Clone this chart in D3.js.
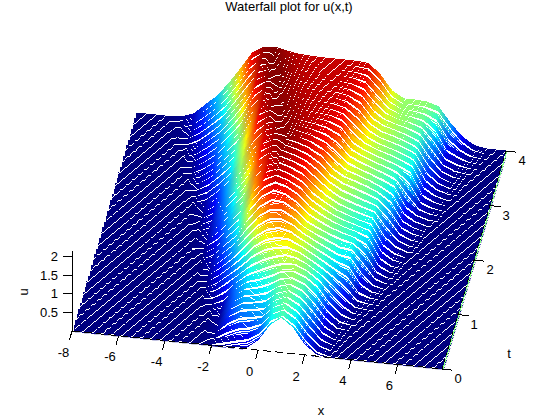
<!DOCTYPE html>
<html><head><meta charset="utf-8">
<script src="https://cdn.jsdelivr.net/npm/d3@7"></script>
<style>html,body{margin:0;padding:0;background:#fff}svg{display:block}text{font-family:"Liberation Sans",Arial,sans-serif;fill:#000}</style>
</head><body><svg id="c" width="560" height="420"></svg>
<script>
// Values. One trace per t row; x columns below. Missing trailing values are u = 0.
// The reference has about 201 thin traces; only these 41 estimated rows are typed.
// Each is drawn with a hatched stroke (several 1px lines, a rendering style, not extra data).
const xDomain=[-8,7.9], tDomain=[0,4], uDomain=[0,2.15];
const xColumns=[-6.5,-6,-5.5,-5,-4.5,-4,-3.5,-3,-2.5,-2,-1.5,-1,-.5,0,.5,1,1.5,2,2.5,3,3.5,4,4.5,5,5.5,6,6.5,7];
const tRows=[0,.1,.2,.3,.4,.5,.6,.7,.8,.9,1,1.1,1.2,1.3,1.4,1.5,1.6,1.7,1.8,1.9,2,2.1,2.2,2.3,2.4,2.5,2.6,2.7,2.8,2.9,3,3.1,3.2,3.3,3.4,3.5,3.6,3.7,3.8,3.9,4];
const xTicks=[-8,-6,-4,-2,0,2,4,6], tTicks=[0,1,2,3,4], uTicks=[.5,1,1.5,2];
const uRows=[
[0,0,0,0,0,0,0,0,0,.01,.02,.03,.04,.28,.72,.95,.72,.3,.06],
[0,0,0,0,0,0,0,0,0,.02,.1,.18,.25,.45,.82,.97,.76,.36,.1,.01],
[0,0,0,0,0,0,0,0,0,.04,.22,.36,.42,.55,.86,1,.8,.42,.13,.02],
[0,0,0,0,0,0,0,0,0,.05,.33,.5,.55,.62,.9,1.03,.84,.48,.16,.02],
[0,0,0,0,0,0,0,0,0,.05,.38,.57,.62,.68,.94,1.05,.88,.54,.19,.03],
[0,0,0,0,0,0,0,0,0,.06,.42,.62,.67,.75,.98,1.07,.92,.6,.22,.03],
[0,0,0,0,0,0,0,0,.01,.09,.45,.66,.72,.82,1.02,1.1,.97,.66,.28,.05],
[0,0,0,0,0,0,0,0,.02,.13,.48,.7,.78,.9,1.07,1.13,1.01,.74,.34,.09,.01],
[0,0,0,0,0,0,0,0,.04,.2,.52,.75,.85,.98,1.13,1.16,1.04,.81,.42,.14,.02],
[0,0,0,0,0,0,0,0,.08,.29,.57,.82,.96,1.1,1.2,1.19,1.05,.84,.52,.22,.03],
[0,0,0,0,0,0,0,0,.13,.38,.62,.9,1.08,1.2,1.28,1.22,1.05,.85,.6,.3,.05,.01],
[0,0,0,0,0,0,0,.01,.18,.44,.7,1,1.2,1.3,1.34,1.24,1.07,.88,.66,.42,.1,.02],
[0,0,0,0,0,0,0,.03,.24,.5,.8,1.12,1.33,1.42,1.41,1.26,1.09,.91,.72,.55,.16,.04],
[0,0,0,0,0,0,0,.06,.3,.57,.92,1.25,1.46,1.54,1.47,1.28,1.11,.95,.78,.68,.25,.06],
[0,0,0,0,0,0,0,.09,.36,.63,1.03,1.38,1.59,1.64,1.52,1.3,1.13,.98,.83,.78,.38,.09],
[0,0,0,0,0,0,0,.12,.42,.7,1.15,1.5,1.7,1.72,1.55,1.3,1.15,1.02,.88,.84,.5,.12,.01],
[0,0,0,0,0,0,.01,.17,.48,.77,1.26,1.62,1.82,1.79,1.61,1.34,1.18,1.05,.94,.86,.62,.16,.02],
[0,0,0,0,0,0,.03,.22,.54,.85,1.36,1.74,1.93,1.86,1.67,1.39,1.22,1.07,.96,.87,.72,.2,.03],
[0,0,0,0,0,0,.05,.29,.6,.93,1.45,1.83,2,1.91,1.73,1.43,1.25,1.09,.97,.88,.78,.24,.05],
[0,0,0,0,0,0,.07,.35,.66,1,1.53,1.9,2.03,1.93,1.77,1.47,1.28,1.1,.99,.89,.8,.27,.07],
[0,0,0,0,0,0,.09,.4,.72,1.08,1.6,1.95,2.05,1.95,1.8,1.5,1.3,1.12,1,.9,.82,.3,.1],
[0,0,0,0,0,.01,.13,.45,.78,1.17,1.68,1.98,2.07,1.98,1.84,1.56,1.33,1.15,1.03,.93,.84,.38,.13,.02],
[0,0,0,0,0,.02,.18,.5,.85,1.26,1.75,2.01,2.09,2,1.87,1.62,1.37,1.18,1.07,.96,.87,.48,.16,.03],
[0,0,0,0,0,.04,.23,.55,.93,1.35,1.83,2.04,2.1,2.02,1.9,1.68,1.4,1.22,1.11,1,.89,.58,.19,.05],
[0,0,0,0,0,.06,.28,.6,1,1.44,1.9,2.06,2.11,2.04,1.93,1.73,1.43,1.25,1.15,1.04,.91,.65,.22,.07],
[0,0,0,0,0,.08,.33,.64,1.08,1.53,1.95,2.08,2.12,2.06,1.95,1.78,1.46,1.28,1.18,1.07,.93,.72,.24,.08],
[0,0,0,0,.01,.13,.39,.7,1.15,1.62,1.98,2.1,2.12,2.05,1.97,1.82,1.55,1.32,1.2,1.09,.96,.78,.28,.1,.01],
[0,0,0,0,.03,.19,.46,.77,1.22,1.72,2.02,2.11,2.11,2.05,1.98,1.87,1.64,1.36,1.23,1.11,1,.85,.33,.12,.03],
[0,0,0,0,.06,.25,.54,.84,1.29,1.82,2.06,2.12,2.1,2.04,1.99,1.91,1.72,1.4,1.26,1.13,1.03,.89,.5,.15,.04],
[0,0,0,0,.09,.3,.6,.9,1.37,1.9,2.08,2.13,2.09,2.04,2,1.94,1.79,1.44,1.28,1.15,1.05,.93,.68,.19,.06],
[0,0,0,0,.13,.35,.66,.96,1.45,1.97,2.1,2.13,2.08,2.03,2,1.96,1.85,1.48,1.3,1.17,1.07,.96,.81,.24,.08],
[0,0,0,.02,.18,.4,.72,1.05,1.55,2,2.11,2.12,2.07,2.03,2,1.97,1.88,1.55,1.32,1.18,1.09,.98,.84,.29,.1,.01],
[0,0,0,.04,.22,.46,.78,1.13,1.65,2.03,2.12,2.11,2.06,2.02,2,1.98,1.9,1.62,1.35,1.2,1.1,1,.86,.34,.12,.02],
[0,0,0,.07,.27,.52,.86,1.23,1.75,2.06,2.13,2.1,2.05,2.02,2,1.99,1.92,1.69,1.38,1.21,1.12,1.02,.88,.39,.14,.03],
[0,0,0,.1,.33,.58,.94,1.34,1.85,2.09,2.14,2.09,2.04,2.01,2,1.99,1.94,1.75,1.4,1.23,1.14,1.04,.9,.44,.15,.03],
[0,0,.01,.13,.38,.65,1.03,1.45,1.95,2.12,2.14,2.08,2.03,2.01,2,2,1.95,1.8,1.43,1.24,1.15,1.06,.93,.5,.17,.04],
[0,0,.04,.2,.45,.71,1.12,1.54,1.99,2.13,2.14,2.07,2.03,2.01,2,2,1.96,1.84,1.47,1.26,1.15,1.08,.96,.57,.19,.06,.01],
[0,.01,.07,.26,.52,.8,1.22,1.65,2.04,2.14,2.13,2.06,2.02,2.01,2,2,1.97,1.88,1.53,1.27,1.14,1.09,1,.66,.22,.1,.02],
[0,.01,.09,.31,.58,.89,1.31,1.76,2.08,2.15,2.12,2.05,2.02,2,2,2,1.98,1.92,1.6,1.28,1.13,1.1,1.04,.8,.3,.15,.03],
[0,.02,.12,.37,.63,.98,1.4,1.85,2.1,2.15,2.1,2.04,2.01,2,2,2,1.99,1.95,1.65,1.29,1.12,1.11,1.07,.92,.45,.2,.05],
[0,.03,.14,.42,.68,1.06,1.48,1.93,2.12,2.15,2.08,2.03,2.01,2,2,2,2,1.97,1.7,1.3,1.12,1.12,1.1,1,.6,.27,.07]
];

const svg=d3.select("#c");
const xSx=d3.scaleLinear().domain(xDomain).range([72,442]);
const xSy=d3.scaleLinear().domain(xDomain).range([331,369]);
const tSx=d3.scaleLinear().domain(tDomain).range([0,64]);
const tSy=d3.scaleLinear().domain(tDomain).range([0,-218]);
const uSy=d3.scaleLinear().domain(uDomain).range([0,-80]);
const px=(x,t)=>xSx(x)+tSx(t);
const py=(x,t,u)=>xSy(x)+tSy(t)+uSy(u);
const jet=d3.scaleLinear().domain([0,.125,.375,.625,.875,1].map(f=>f*uDomain[1]))
  .range(["#00007f","#0000ff","#00ffff","#ffff00","#ff0000","#7f0000"]).clamp(true);

const xAll=[xDomain[0],...xColumns,xDomain[1]];
const rows=tRows.map((t,i)=>({t,i,pts:xAll.map((x,j)=>({x,u:(j==0||j==xAll.length-1)?0:(uRows[i][j-1]||0)}))}));
const defs=svg.append("defs");
defs.selectAll("linearGradient").data(rows).join("linearGradient")
  .attr("id",d=>"g"+d.i).attr("gradientUnits","userSpaceOnUse")
  .attr("x1",d=>px(xDomain[0],d.t)).attr("x2",d=>px(xDomain[1],d.t)).attr("y1",0).attr("y2",0)
  .selectAll("stop").data(d=>d.pts).join("stop")
  .attr("offset",p=>(xSx(p.x)-xSx(xDomain[0]))/(xSx(xDomain[1])-xSx(xDomain[0])))
  .attr("stop-color",p=>jet(p.u));
defs.append("clipPath").attr("id","surf").append("polygon").attr("points",[
  [px(xDomain[0],0),0],[px(xDomain[1],4)+2,0],[px(xDomain[1],4)+2,py(xDomain[1],4,0)],
  [px(xDomain[1],0)+2,py(xDomain[1],0,0)+1],[px(xDomain[0],0),py(xDomain[0],0,0)+1]
].map(p=>p.join(",")).join(" "));

// back to front, like a waterfall: each trace hides what is behind it with a white skirt.
// Lines past the first five only show where the next trace is further than one bundle away.
const hatch=[0,1.09,2.18,3.27,4.36,7.63,9.81,11.99,14.17];
const skirtDrop=16;
const order=rows.slice().reverse();
const gS=svg.append("g").attr("clip-path","url(#surf)");
const row=gS.selectAll("g").data(order).join("g");
row.append("path")
  .attr("fill","#fff").attr("stroke","none").attr("shape-rendering","crispEdges")
  .attr("d",d=>d3.area().x(p=>px(p.x,d.t)).y0(p=>py(p.x,d.t,0)+(d.t==0?0:skirtDrop)).y1(p=>py(p.x,d.t,p.u))(d.pts));
row.selectAll("path.l").data(d=>(d.t==0?[0]:hatch).map(o=>({o,d}))).join("path").attr("class","l")
  .attr("fill","none").attr("stroke",e=>`url(#g${e.d.i})`).attr("shape-rendering","crispEdges")
  .attr("stroke-width",1).attr("stroke-linejoin","bevel")
  .attr("transform",e=>`translate(0,${e.o})`)
  .attr("d",e=>d3.line().x(p=>px(p.x,e.d.t)).y(p=>py(p.x,e.d.t,p.u))(e.d.pts));

const fs=13;
function place(g,pos,tick,off,anchor){
  g.attr("font-size",fs).attr("font-family",null);
  g.selectAll(".tick").attr("transform",d=>`translate(${pos(d)})`);
  g.selectAll(".tick line").attr("x2",tick[0]).attr("y2",tick[1]).attr("shape-rendering","crispEdges");
  g.selectAll(".tick text").attr("x",off[0]).attr("y",off[1]).attr("dy","0.36em").attr("text-anchor",anchor);
}
const gx=svg.append("g").call(d3.axisBottom(xSx).tickValues(xTicks).tickFormat(d=>String(d)));
place(gx,d=>[px(d,0),py(d,0,0)],[-2.5,9],[-8.5,21],"middle");
gx.select(".domain").attr("d",`M${px(xDomain[0],0)},${py(xDomain[0],0,0)}L${px(xDomain[1],0)},${py(xDomain[1],0,0)}`)
  .attr("stroke-dasharray","8 4").attr("shape-rendering","crispEdges");
svg.append("line").attr("x1",px(xDomain[1],0)+1).attr("y1",py(xDomain[1],0,0)).attr("x2",px(xDomain[1],4)+1).attr("y2",py(xDomain[1],4,0))
  .attr("stroke","#7fff7f").attr("shape-rendering","crispEdges");
const tS=d3.scaleLinear().domain(tDomain).range([369,151]);
const gt=svg.append("g").call(d3.axisRight(tS).tickValues(tTicks).tickFormat(d=>String(d)));
place(gt,d=>[px(xDomain[1],d),py(xDomain[1],d,0)],[10.5,1.2],[16,9.5],"middle");
gt.select(".domain").attr("d",`M${px(xDomain[1],0)},${py(xDomain[1],0,0)}L${px(xDomain[1],4)},${py(xDomain[1],4,0)}`)
  .attr("stroke-dasharray","3 4").attr("shape-rendering","crispEdges");
const uS=d3.scaleLinear().domain(uDomain).range([331,251]);
const gu=svg.append("g").call(d3.axisLeft(uS).tickValues(uTicks).tickFormat(d=>String(d)));
place(gu,d=>[72,uS(d)],[-9,0],[-14,0],"end");
gu.select(".domain").attr("d","M72,331L72,251").attr("shape-rendering","crispEdges");

svg.append("text").attr("x",289).attr("y",11).attr("text-anchor","middle").attr("font-size",fs).text("Waterfall plot for u(x,t)");
svg.append("text").attr("x",321).attr("y",415).attr("text-anchor","middle").attr("font-size",fs).text("x");
svg.append("text").attr("x",509).attr("y",358).attr("text-anchor","middle").attr("font-size",fs).text("t");
svg.append("text").attr("transform","translate(28,292) rotate(-90)").attr("text-anchor","middle").attr("font-size",fs).text("u");
</script></body></html>
